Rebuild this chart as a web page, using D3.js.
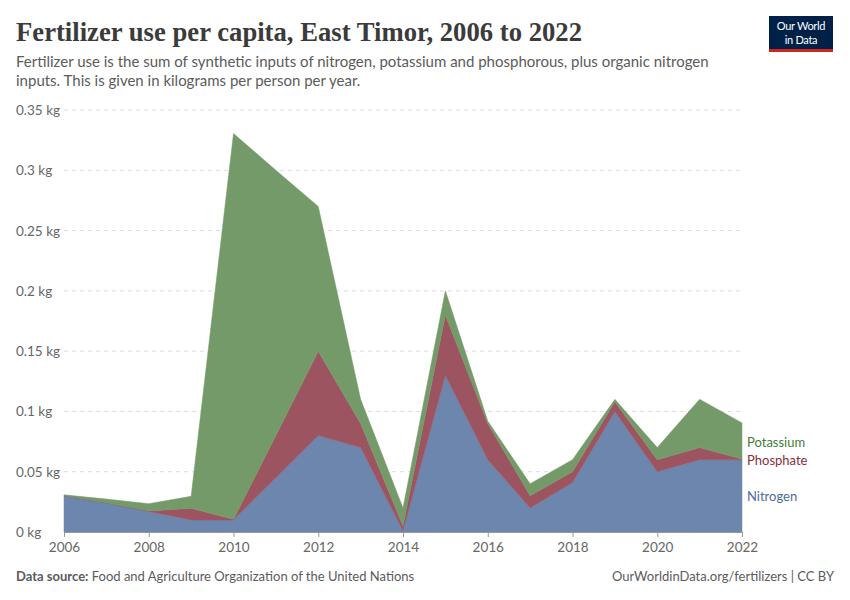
<!DOCTYPE html>
<html>
<head>
<meta charset="utf-8">
<script src="https://cdn.jsdelivr.net/npm/d3@7"></script>
<style>
  body { margin: 0; background: #fff; }
  svg { display: block; font-family: Lato, "Noto Sans", sans-serif; }
</style>
</head>
<body>
<svg id="chart" width="850" height="600"></svg>
<script>
// values in kg per person per year
var years = [2006, 2007, 2008, 2009, 2010, 2011, 2012, 2013, 2014, 2015, 2016, 2017, 2018, 2019, 2020, 2021, 2022];
var nitrogen  = [0.03, 0.024, 0.017, 0.01, 0.01, 0.045, 0.08, 0.07, 0.001, 0.13, 0.06, 0.02, 0.041, 0.1, 0.05, 0.06, 0.06];
var phosphate = [0.0003, 0.0003, 0.0005, 0.0096, 0.0005, 0.035, 0.07, 0.02, 0.004, 0.05, 0.03, 0.01, 0.009, 0.008, 0.01, 0.01, 0.0005];
var potassium = [0.0005, 0.003, 0.006, 0.01, 0.32, 0.22, 0.12, 0.02, 0.015, 0.02, 0.002, 0.01, 0.01, 0.002, 0.01, 0.04, 0.03];
var seriesNames = ['Nitrogen', 'Phosphate', 'Potassium'];
var yTicks = [0, 0.05, 0.1, 0.15, 0.2, 0.25, 0.3, 0.35];
var xTicks = [2006, 2008, 2010, 2012, 2014, 2016, 2018, 2020, 2022];

var fills = { Nitrogen: '#6d86ad', Phosphate: '#9c5560', Potassium: '#759a69' };
var labelColors = { Nitrogen: '#4c6a9c', Phosphate: '#883039', Potassium: '#3f7d34' };

var svg = d3.select('#chart');

// header
svg.append('text').attr('x', 16).attr('y', 41)
  .attr('textLength', 566).attr('lengthAdjust', 'spacingAndGlyphs')
  .style('font-family', '"Liberation Serif", "DejaVu Serif", serif')
  .style('font-size', '28px').style('font-weight', 'bold').style('fill', '#3b3b3b')
  .text('Fertilizer use per capita, East Timor, 2006 to 2022');

svg.append('text').attr('x', 16).attr('y', 67)
  .style('font-size', '15px').style('fill', '#5b5b5b')
  .text('Fertilizer use is the sum of synthetic inputs of nitrogen, potassium and phosphorous, plus organic nitrogen');
svg.append('text').attr('x', 16).attr('y', 86)
  .style('font-size', '15px').style('fill', '#5b5b5b')
  .text('inputs. This is given in kilograms per person per year.');

// logo
var logo = svg.append('g').attr('transform', 'translate(769,16)');
logo.append('rect').attr('width', 64).attr('height', 36).attr('fill', '#002147');
logo.append('rect').attr('y', 33).attr('width', 64).attr('height', 3).attr('fill', '#ce261e');
logo.append('text').attr('x', 32).attr('y', 14).attr('text-anchor', 'middle')
  .style('font-size', '11px').style('fill', '#fff').style('letter-spacing', '-0.3px').text('Our World');
logo.append('text').attr('x', 32).attr('y', 28).attr('text-anchor', 'middle')
  .style('font-size', '11px').style('fill', '#fff').style('letter-spacing', '-0.3px').text('in Data');

// scales
var x = d3.scaleLinear().domain([2006, 2022]).range([64, 742]);
var y = d3.scaleLinear().domain([0, 0.35]).range([532, 110]);

// gridlines + y labels
var yAxis = svg.append('g');
yTicks.forEach(function (t) {
  if (t > 0) {
    yAxis.append('line')
      .attr('x1', 64).attr('x2', 742).attr('y1', y(t)).attr('y2', y(t))
      .attr('stroke', '#dddddd').attr('stroke-dasharray', '4,4');
  }
  yAxis.append('text').attr('x', 16).attr('y', y(t) + 5)
    .style('font-size', '13.5px').style('fill', '#666')
    .text(t + ' kg');
});

// stacked areas
var table = years.map(function (yr, i) {
  return { year: yr, Nitrogen: nitrogen[i], Phosphate: phosphate[i], Potassium: potassium[i] };
});
var stack = d3.stack().keys(seriesNames);
var layers = stack(table);

var area = d3.area()
  .x(function (d) { return x(d.data.year); })
  .y0(function (d) { return y(d[0]); })
  .y1(function (d) { return y(d[1]); });

svg.append('g').selectAll('path')
  .data(layers)
  .enter().append('path')
  .attr('d', area)
  .attr('fill', function (d) { return fills[d.key]; })
  .attr('stroke', function (d) { return fills[d.key]; })
  .attr('stroke-width', 0.5);

// x axis
var xAxis = svg.append('g').attr('transform', 'translate(0,532)')
  .call(d3.axisBottom(x).tickValues(xTicks).tickFormat(d3.format('d')).tickSize(5).tickPadding(5));
xAxis.select('.domain').attr('stroke', '#999');
xAxis.selectAll('.tick line').attr('stroke', '#999');
xAxis.selectAll('.tick text')
  .style('font-family', 'Lato, "Noto Sans", sans-serif')
  .style('font-size', '13.5px').style('fill', '#666');

// right labels
var labelY = { Potassium: 447, Phosphate: 465, Nitrogen: 501 };
seriesNames.forEach(function (name) {
  svg.append('text').attr('x', 747).attr('y', labelY[name])
    .style('font-size', '13px').style('fill', labelColors[name])
    .text(name);
});

// footer
svg.append('text').attr('x', 16).attr('y', 581)
  .style('font-size', '13px').style('fill', '#5b5b5b')
  .html('<tspan style="font-weight:bold">Data source:</tspan> Food and Agriculture Organization of the United Nations');
svg.append('text').attr('x', 834).attr('y', 581).attr('text-anchor', 'end')
  .style('font-size', '13px').style('fill', '#5b5b5b')
  .text('OurWorldinData.org/fertilizers | CC BY');
</script>
</body>
</html>
